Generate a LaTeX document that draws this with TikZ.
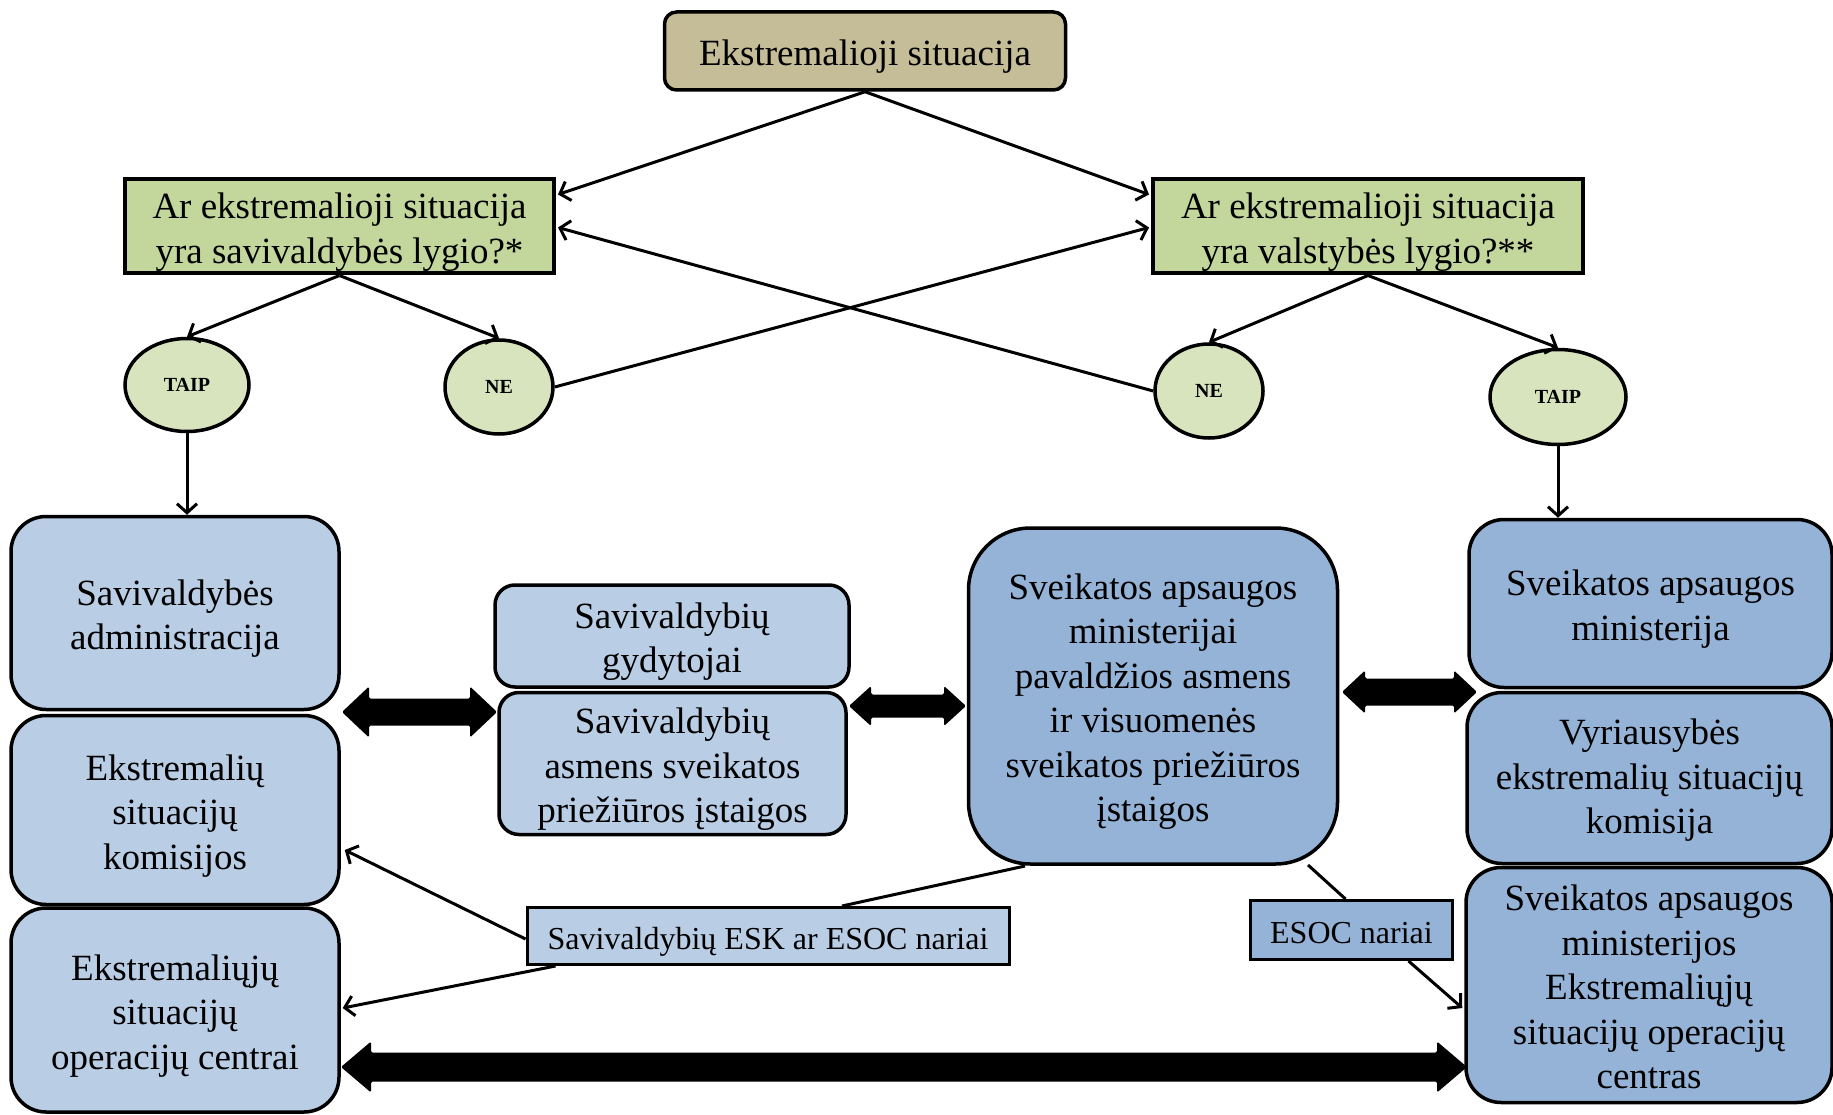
\documentclass[tikz,border=0pt]{standalone}
\usepackage{fontspec}
\setmainfont{Liberation Serif}
\usetikzlibrary{shapes.geometric,arrows.meta,calc}
\definecolor{tanfill}{HTML}{C4BD97}
\definecolor{qgreen}{HTML}{C3D69B}
\definecolor{egreen}{HTML}{D7E4BD}
\definecolor{lblue}{HTML}{B9CDE5}
\definecolor{dblue}{HTML}{95B3D7}
\newcommand\bigtext{\fontsize{37}{44.5}\selectfont}
\newcommand\lbltext{\fontsize{32}{38}\selectfont}
\newcommand\yntext{\fontsize{20}{24}\selectfont\bfseries}
\newcommand\fsA{\rule{0pt}{37pt}}
\newcommand\fsB{\rule{0pt}{34pt}}
\newcommand\fsC{\rule{0pt}{28pt}}
\newcommand\fsD{\rule{0pt}{30pt}}
% thick double arrow between two tip coordinates (horizontal)
\newcommand\dblarr[5]{%
  \fill[rounded corners=1.5pt] let \p1=(#1),\p2=(#2) in
  (\x1,\y1) -- (\x1+#5,\y1+#4) -- (\x1+#5,\y1+#3) -- (\x2-#5,\y1+#3) -- (\x2-#5,\y1+#4) -- (\x2,\y1)
  -- (\x2-#5,\y1-#4) -- (\x2-#5,\y1-#3) -- (\x1+#5,\y1-#3) -- (\x1+#5,\y1-#4) -- cycle;}
\begin{document}
\begin{tikzpicture}[x=1pt,y=-1pt,
  box/.style={draw, line width=3.5pt, inner sep=0pt, align=center, font=\bigtext},
  qbox/.style={box, fill=qgreen, line width=4pt},
  lbox/.style={box, fill=lblue, rounded corners=35pt},
  dbox/.style={box, fill=dblue, rounded corners=35pt},
  yn/.style={draw, ellipse, fill=egreen, line width=3.5pt, inner sep=0pt, font=\yntext},
  lbl/.style={draw, line width=3pt, inner sep=0pt, align=center, font=\lbltext},
  conn/.style={line width=3pt, -{Straight Barb[length=9pt,width=20pt]}},
  plain/.style={line width=3pt}]
\useasboundingbox (0,0) rectangle (1833,1115);

% top
\node[box, fill=tanfill, rounded corners=12pt, minimum width=401pt, minimum height=78pt] (top) at (865,51) {\fsA Ekstremalioji situacija};
% questions
\node[qbox, minimum width=429pt, minimum height=94pt] (lq) at (339.5,226.5) {\fsA Ar ekstremalioji situacija\\yra savivaldybės lygio?*};
\node[qbox, minimum width=430pt, minimum height=94pt] (rq) at (1368,226.5) {\fsA Ar ekstremalioji situacija\\yra valstybės lygio?**};
% yes/no
\node[yn, minimum width=124pt, minimum height=93pt] (taipL) at (187,385) {TAIP};
\node[yn, minimum width=108pt, minimum height=94pt] (neL) at (499,387) {NE};
\node[yn, minimum width=108pt, minimum height=94pt] (neR) at (1209,391) {NE};
\node[yn, minimum width=136pt, minimum height=95pt] (taipR) at (1558,397) {TAIP};

% left column
\node[lbox, minimum width=328pt, minimum height=193pt] (admin) at (175,613) {\fsA Savivaldybės\\administracija};
\node[lbox, minimum width=328pt, minimum height=189pt] (esk) at (175,810) {\fsA Ekstremalių\\situacijų\\komisijos};
\node[lbox, minimum width=328pt, minimum height=204pt] (esoc) at (175,1010) {\fsA Ekstremaliųjų\\situacijų\\operacijų centrai};
% middle
\node[lbox, rounded corners=20pt, minimum width=354pt, minimum height=102pt] (gyd) at (672,636) {\fsA Savivaldybių\\gydytojai};
\node[lbox, rounded corners=20pt, minimum width=347pt, minimum height=142pt] (asp) at (672.5,763.5) {\fsA Savivaldybių\\asmens sveikatos\\priežiūros įstaigos};
\node[dbox, rounded corners=62pt, minimum width=369pt, minimum height=336pt] (center) at (1153,696) {\fsA Sveikatos apsaugos\\ministerijai\\pavaldžios asmens\\ir visuomenės\\sveikatos priežiūros\\įstaigos};
% right column
\node[dbox, minimum width=363pt, minimum height=168pt] (sam) at (1650.5,603.5) {\fsA Sveikatos apsaugos\\ministerija};
\node[dbox, minimum width=365pt, minimum height=171pt] (vesk) at (1649.5,778) {\fsD Vyriausybės\\ekstremalių situacijų\\komisija};
\node[dbox, minimum width=366pt, minimum height=235pt] (samesoc) at (1649,985) {\fsD Sveikatos apsaugos\\ministerijos\\Ekstremaliųjų\\situacijų operacijų\\centras};
% labels
\node[lbl, fill=lblue, minimum width=482pt, minimum height=57pt] (lbl1) at (768,936) {\fsB Savivaldybių ESK ar ESOC nariai};
\node[lbl, fill=dblue, minimum width=202pt, minimum height=59pt] (lbl2) at (1351.5,930) {\fsC ESOC nariai};

% thin connectors
\draw[conn] (top.south) -- ($(lq.north east)+(2,17)$);
\draw[conn] (top.south) -- ($(rq.north west)+(-2,17)$);
\draw[conn] (lq.south) -- (taipL.north);
\draw[conn] (lq.south) -- (neL.north);
\draw[conn] (rq.south) -- (neR.north);
\draw[conn] (rq.south) -- (taipR.north);
\draw[conn] (neL.east) -- ($(rq.north west)+(-2,50)$);
\draw[conn] (neR.west) -- ($(lq.north east)+(2,50)$);
\draw[conn] (taipL.south) -- (taipL.south |- admin.north);
\draw[conn] (taipR.south) -- (taipR.south |- sam.north);

\coordinate (l1a) at ($(lbl1.west)+(0,3)$);
\coordinate (l1b) at ($(lbl1.south west)+(30,0)$);
\draw[conn] (l1a) -- ($(esk.east)+(4,40)$);
\draw[conn] (l1b) -- ($(esoc.east)+(2,-2)$);
\coordinate (c1) at (1025,866);
\coordinate (c2) at (1308,865);
\draw[plain] (c1) -- ($(lbl1.north)+(74,0)$);
\draw[plain] (c2) -- ($(lbl2.north)+(-6,0)$);
\draw[conn] ($(lbl2.south)+(57,0)$) -- ($(samesoc.west)+(-2,23)$);

% thick double arrows
\coordinate (a1l) at (342,712); \coordinate (a1r) at (497,712);
\coordinate (a2l) at (849,706); \coordinate (a2r) at (966,706);
\coordinate (a3l) at (1342,692); \coordinate (a3r) at (1477,692);
\coordinate (a4l) at (341,1067); \coordinate (a4r) at (1467,1067);
\dblarr{a1l}{a1r}{13.5pt}{25.5pt}{27pt}
\dblarr{a2l}{a2r}{11.5pt}{20pt}{22pt}
\dblarr{a3l}{a3r}{13.5pt}{21.5pt}{23pt}
\dblarr{a4l}{a4r}{14.5pt}{25.5pt}{30pt}
\end{tikzpicture}
\end{document}
